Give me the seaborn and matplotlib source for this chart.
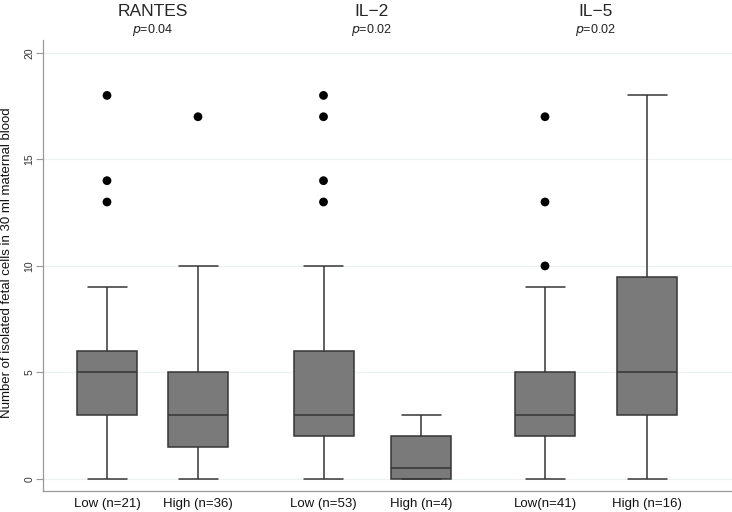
import matplotlib
matplotlib.use("Agg")
import matplotlib.pyplot as plt
import seaborn as sns
import pandas as pd

### valeurs ###
markers = ["RANTES", "IL\u22122", "IL\u22125"]
p_values = ["0.04", "0.02", "0.02"]
groups = ["Low (n=21)", "High (n=36)", "Low (n=53)", "High (n=4)", "Low(n=41)", "High (n=16)"]

# lower whisker, q1, median, q3, upper whisker
whisk_lo = [0, 0, 0, 0, 0, 0]
q1 = [3, 1.5, 2, 0, 2, 3]
median = [5, 3, 3, 0.5, 3, 5]
q3 = [6, 5, 6, 2, 5, 9.5]
whisk_hi = [9, 10, 10, 3, 9, 18]

outliers = [[13, 14, 18], [17], [13, 14, 17, 18], [], [10, 13, 17], []]

### mise en page ###
box_x = [107, 198, 323.5, 421, 545, 647]
title_x = [152.5, 372, 596]
cap_w = 39

rows = []
for g, x, a, b, c, d, e in zip(groups, box_x, whisk_lo, q1, median, q3, whisk_hi):
    for v in [a, b, c, d, e]:
        rows.append({"groupe": g, "pos": x, "valeur": v})
df = pd.DataFrame(rows)

rows_out = []
for g, x, vals in zip(groups, box_x, outliers):
    for v in vals:
        rows_out.append({"groupe": g, "pos": x, "valeur": v})
df_out = pd.DataFrame(rows_out)

sns.set_style("white")
plt.rcParams['font.family'] = ['Liberation Sans', 'DejaVu Sans']

fig = plt.figure(figsize=(7.32, 5.12), dpi=100)
ax = fig.add_axes([43 / 732, 21 / 512, 689 / 732, 451 / 512])

line_col = "#363636"
sns.boxplot(data=df, x="pos", y="valeur", native_scale=True, whis=(0, 100),
            width=60 / 91, color="#7a7a7a", saturation=1, fliersize=0,
            linewidth=1.1, linecolor=line_col, ax=ax)
sns.scatterplot(data=df_out, x="pos", y="valeur", color="black", s=40,
                edgecolor="none", ax=ax, zorder=5)

# caps : plus larges que ceux de seaborn
for line in ax.lines:
    xd = list(line.get_xdata())
    yd = list(line.get_ydata())
    if len(xd) == 2 and yd[0] == yd[1] and 0 < abs(xd[1] - xd[0]) < 50:
        c = (xd[0] + xd[1]) / 2
        line.set_xdata([c - cap_w / 2, c + cap_w / 2])

ax.set_xlim(43, 732)
ax.set_ylim(-0.56, 20.6)
ax.set_yticks([0, 5, 10, 15, 20])
ax.set_yticklabels(["0", "5", "10", "15", "20"], rotation=90, va="center",
                   fontsize=7.5, color="#333333")
ax.set_xticks(box_x)
ax.set_xticklabels(groups, fontsize=9.5, color="#111111")
ax.tick_params(axis="x", length=0, pad=5)
ax.tick_params(axis="y", length=5, width=0.8, color="#999999", pad=1, left=True)
ax.grid(axis="y", color="#eef1f1", linewidth=0.9)
ax.set_axisbelow(True)

for s in ["top", "right"]:
    ax.spines[s].set_visible(False)
for s in ["left", "bottom"]:
    ax.spines[s].set_color("#999999")
    ax.spines[s].set_linewidth(0.9)

ax.set_xlabel("")
ax.set_ylabel("Number of isolated fetal cells in 30 ml maternal blood",
              fontsize=9.5, color="#111111")
ax.yaxis.set_label_coords(-0.0435, 0.506)

for m, p, tx in zip(markers, p_values, title_x):
    fig.text(tx / 732, 1 - 11 / 512, m, ha="center", va="center", fontsize=12.5)
    fig.text(tx / 732, 1 - 30 / 512, r"$\it{p}$" + "=" + p, ha="center",
             va="center", fontsize=9, color="#222222")

fig.savefig("out.png", dpi=100)
